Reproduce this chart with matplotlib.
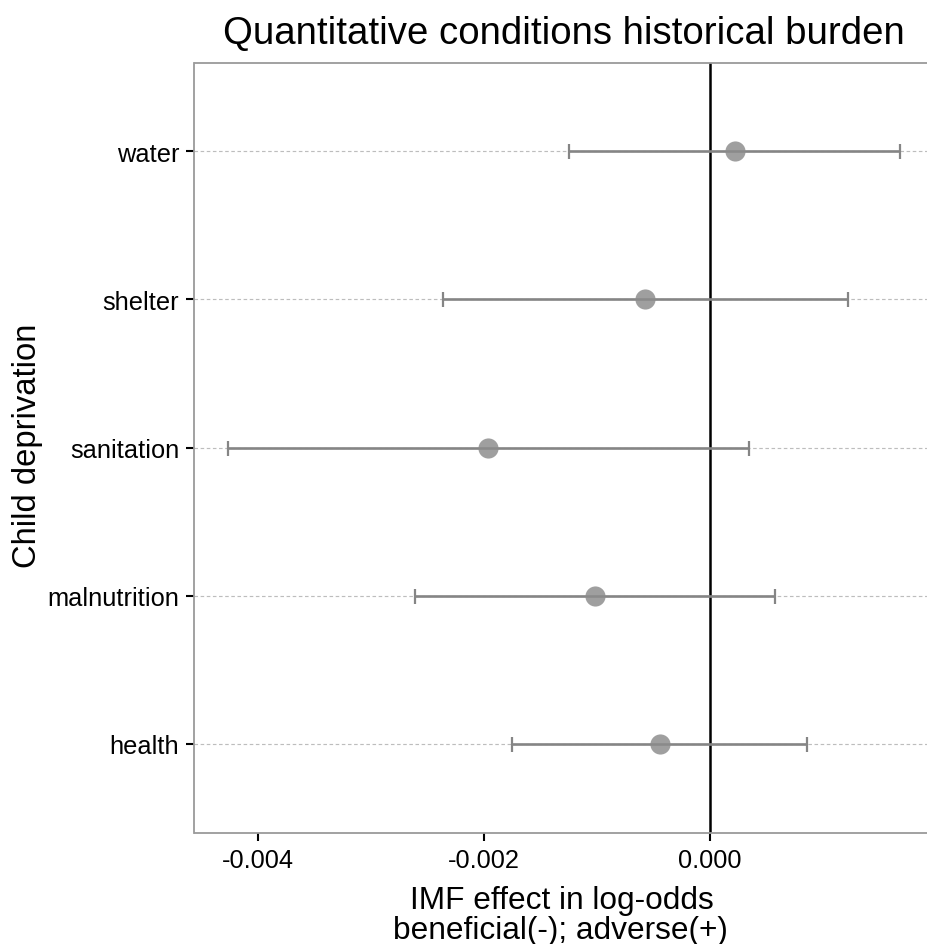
import matplotlib
matplotlib.use("Agg")
import matplotlib.pyplot as plt
import numpy as np

plt.rcParams['font.family'] = ['Liberation Sans', 'DejaVu Sans']

# ---- data ----
categories = ["health", "malnutrition", "sanitation", "shelter", "water"]
estimate = [-0.000444, -0.00102, -0.00196, -0.000574, 0.000215]
ci_low = [-0.00175, -0.00261, -0.00426, -0.00236, -0.00125]
ci_high = [0.000854, 0.000571, 0.000344, 0.00122, 0.00168]
xticks = [-0.004, -0.002, 0.000]
xtick_labels = ["-0.004", "-0.002", "0.000"]

title = "Quantitative conditions historical burden"
xlabel_lines = ["IMF effect in log-odds", "beneficial(-); adverse(+)"]
ylabel = "Child deprivation"

W, H = 928, 945
fig = plt.figure(figsize=(W / 100, H / 100), dpi=100)
L, R, T, B = 194.5, 934.0, 63.5, 833.5
ax = fig.add_axes([L / W, 1 - B / H, (R - L) / W, (B - T) / H])

ypos = np.arange(1, len(categories) + 1)
est = np.array(estimate)
lo = np.array(ci_low)
hi = np.array(ci_high)

# gridlines (horizontal, dashed)
for y in ypos:
    ax.axhline(y, color='#bdbdbd', lw=0.85, dashes=(3, 2.2), zorder=0)

# zero line
ax.axvline(0, color='black', lw=1.8, zorder=2)

# error bars
ax.errorbar(est, ypos, xerr=[est - lo, hi - est], fmt='none',
            ecolor='#858585', elinewidth=1.9, capsize=5.4, capthick=1.6, zorder=3)
# points
ax.plot(est, ypos, 'o', color='#8c8c8c', alpha=0.83, markersize=14.5,
        markeredgewidth=0, zorder=4)

rng = max(hi) - min(lo)
ax.set_xlim(min(lo) - 0.05 * rng, max(hi) + 0.05 * rng)
ax.set_ylim(0.4, len(categories) + 0.6)

ax.set_yticks(ypos)
ax.set_yticklabels(categories)
ax.set_xticks(xticks)
ax.set_xticklabels(xtick_labels)

ax.tick_params(axis='both', colors='black', labelsize=18.3, width=1.5, length=6, pad=5)
for s in ax.spines.values():
    s.set_color('#9a9a9a')
    s.set_linewidth(1.3)
ax.spines['right'].set_visible(False)

fig.text((L + R) / 2 / W, 1 - 44 / H, title, ha='center', va='baseline',
         fontsize=27.6, color='black')
fig.text(562 / W, 1 - 909 / H, xlabel_lines[0], ha='center', va='baseline',
         fontsize=22.8, color='black')
fig.text(560 / W, 1 - 939 / H, xlabel_lines[1], ha='center', va='baseline',
         fontsize=22.8, color='black')
fig.text(28 / W, 1 - 446 / H, ylabel, ha='center', va='center', rotation=90,
         fontsize=23.6, color='black')

fig.savefig("out.png", dpi=100)
